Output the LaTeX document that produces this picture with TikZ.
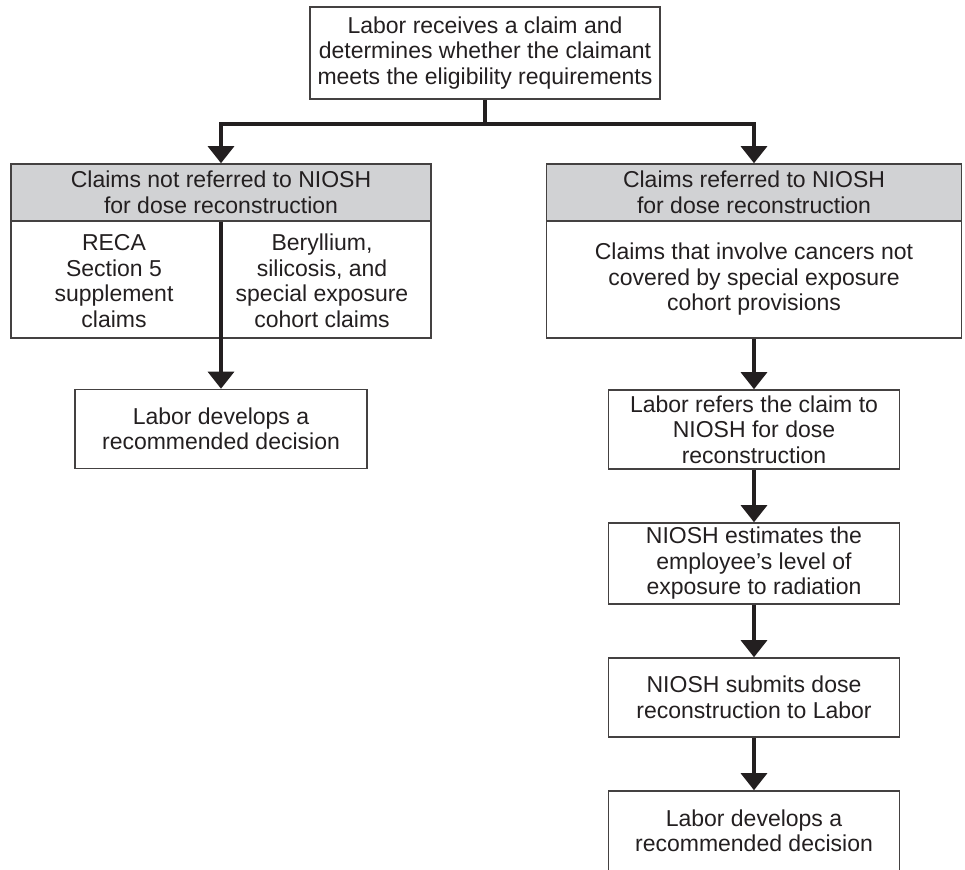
\documentclass[tikz,border=0pt]{standalone}
\usepackage{fontspec}
\setmainfont{Liberation Sans}
\usetikzlibrary{arrows.meta}
\definecolor{ink}{RGB}{35,31,32}
\definecolor{headgray}{RGB}{209,210,212}
\tikzset{
  box/.style={draw=ink!85, line width=0.8pt, align=center, inner sep=0pt,
    text=ink, font=\fontsize{11.5}{12.75}\selectfont},
  headbox/.style={box, fill=headgray},
  plain/.style={align=center, inner sep=0pt, text=ink, font=\fontsize{11.5}{12.75}\selectfont},
  link/.style={draw=ink, line width=1.6pt},
  arr/.style={link, -{Triangle[width=13pt,length=8.5pt]}}
}
\begin{document}
\begin{tikzpicture}[x=0.5pt,y=-0.5pt]
\clip (0,0) rectangle (965,869); % page size

% top box
\node[box, minimum width=175pt, minimum height=46pt] (recv) at (485,53)
  {Labor receives a claim and\\determines whether the claimant\\meets the eligibility requirements};
\coordinate (fork) at (485,124);

% left side
\node[headbox, minimum width=210pt, minimum height=28.5pt] (nothead) at (221,192.5)
  {Claims not referred to NIOSH\\for dose reconstruction};
\node[box, minimum width=210pt, minimum height=58.5pt] (notbody) at (221,279.5) {};
\node[plain] (reca) at (114,281) {RECA\\Section 5\\supplement\\claims};
\node[plain] (beryl) at (322,281) {Beryllium,\\silicosis, and\\special exposure\\cohort claims};
\node[box, minimum width=146pt, minimum height=39.5pt] (leftdec) at (221,429)
  {Labor develops a\\recommended decision};

% right side
\node[headbox, minimum width=207.5pt, minimum height=28.5pt] (refhead) at (754,192.5)
  {Claims referred to NIOSH\\for dose reconstruction};
\node[box, minimum width=207.5pt, minimum height=58.5pt] (refbody) at (754,279.5)
  {Claims that involve cancers not\\covered by special exposure\\cohort provisions};
\node[box, minimum width=145.5pt, minimum height=39.5pt] (refer) at (754,429.5)
  {Labor refers the claim to\\NIOSH for dose\\reconstruction};
\node[box, minimum width=145.5pt, minimum height=40.5pt] (estim) at (754,563.5)
  {NIOSH estimates the\\employee’s level of\\exposure to radiation};
\node[box, minimum width=145.5pt, minimum height=39.5pt] (submit) at (754,697.5)
  {NIOSH submits dose\\reconstruction to Labor};
\node[box, minimum width=145.5pt, minimum height=40pt] (rightdec) at (754,831)
  {Labor develops a\\recommended decision};

% connectors
\draw[link] (recv.south) -- (fork);
\draw[arr] (fork) -| (nothead.north);
\draw[arr] (fork) -| (refhead.north);
\draw[arr] (nothead.south) -- (leftdec.north);
\draw[arr] (refbody.south) -- (refer.north);
\draw[arr] (refer.south) -- (estim.north);
\draw[arr] (estim.south) -- (submit.north);
\draw[arr] (submit.south) -- (rightdec.north);
\end{tikzpicture}
\end{document}
